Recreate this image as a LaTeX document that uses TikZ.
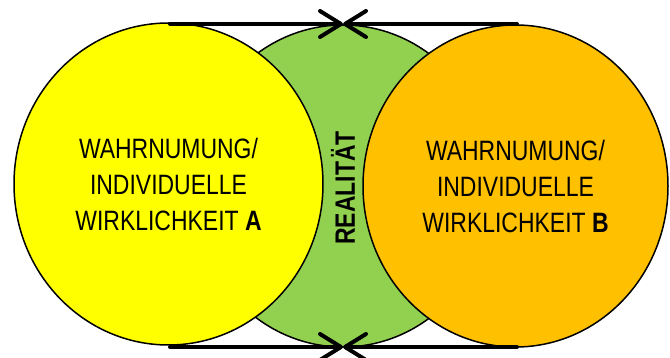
\documentclass[tikz,border=0pt]{standalone}
\usepackage{fontspec}
\setmainfont{Liberation Sans}[FakeStretch=0.82]
\usepackage{xcolor}
\usepackage{tikz}
\usetikzlibrary{arrows.meta,shapes.geometric}
\definecolor{wyellow}{HTML}{FFFF00}
\definecolor{worange}{HTML}{FFC000}
\definecolor{rgreen}{HTML}{92D050}

\begin{document}
\begin{tikzpicture}[x=1pt, y=-1pt,
    blob/.style={draw, ellipse, line width=1.5pt, minimum height=322pt, inner sep=0pt,
                 align=center, font=\fontsize{28}{36}\selectfont},
    arr/.style={-{Straight Barb[length=21pt, width=26pt, round]}, line width=4pt, line cap=round}]
  \useasboundingbox (0,0) rectangle (670,358);
  \node[blob, fill=rgreen, minimum width=302pt] (real) at (343,186) {};
  \node[blob, fill=wyellow, minimum width=309pt] (wa) at (168.5,184) {WAHRNUMUNG/\\ INDIVIDUELLE\\ WIRKLICHKEIT \textbf{A}};
  \node[blob, fill=worange, minimum width=305pt] (wb) at (515.5,186) {WAHRNUMUNG/\\ INDIVIDUELLE\\ WIRKLICHKEIT \textbf{B}};
  \node[font=\fontsize{28}{36}\selectfont\bfseries, rotate=90] (reallab) at (343,188) {REALITÄT};
  % connectors top and bottom
  \coordinate (tl) at (170,24);
  \coordinate (tm) at (343,24);
  \coordinate (tr) at (517,24);
  \coordinate (bl) at (170,347);
  \coordinate (bm) at (343,347);
  \coordinate (br) at (517,347);
  \draw[arr] (tl) -- (tm);
  \draw[arr] (tr) -- (tm);
  \draw[arr] (bl) -- (bm);
  \draw[arr] (br) -- (bm);
\end{tikzpicture}
\end{document}
